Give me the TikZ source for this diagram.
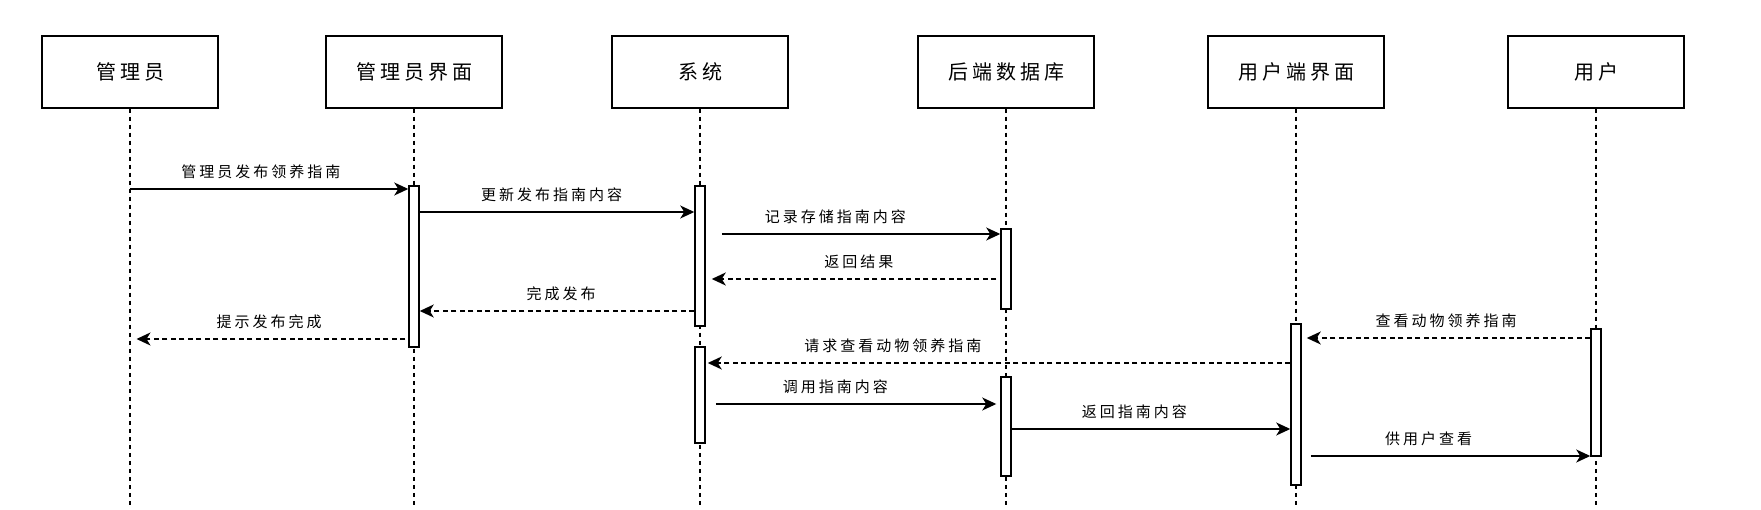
\documentclass[tikz,border=0pt]{standalone}
\usepackage{fontspec}
\setmainfont{Noto Sans CJK SC}[LetterSpace=20]
\usetikzlibrary{arrows.meta}

\begin{document}
\begin{tikzpicture}[x=1pt, y=-1pt,
    head/.style={draw, line width=1.5pt, minimum width=176pt, minimum height=72pt,
      inner sep=0pt, font=\fontsize{20pt}{24pt}\selectfont},
    life/.style={line width=1.2pt, dash pattern=on 4.5pt off 3.5pt},
    act/.style={draw, fill=white, line width=1.5pt, minimum width=10pt, inner sep=0pt},
    call/.style={line width=1.5pt, -{Stealth[length=14pt, width=13pt, inset=4pt]}},
    back/.style={call, dash pattern=on 5pt off 3.5pt},
    lbl/.style={yshift=17pt, inner sep=0pt, font=\fontsize{15pt}{18pt}\selectfont}]

  \useasboundingbox (0,0) rectangle (1761,510);

  % Heads and lifelines
  \foreach \n/\x/\t in {adm/130/管理员, admui/414/管理员界面, sys/700/系统,
      db/1006/后端数据库, userui/1296/用户端界面, user/1596/用户} {
    \node[head] (\n) at (\x,72) {\t};
    \coordinate (\n-end) at (\x,508);
    \draw[life] (\n) -- (\n-end);
  }

  % Activation bars
  \node[act, minimum height=161pt] (a2) at (admui |- 0,266.5) {};
  \node[act, minimum height=140pt] (a3a) at (sys |- 0,256) {};
  \node[act, minimum height=80pt] (a4a) at (db |- 0,269) {};
  \node[act, minimum height=96pt] (a3b) at (sys |- 0,395) {};
  \node[act, minimum height=99pt] (a4b) at (db |- 0,426.5) {};
  \node[act, minimum height=161pt] (a5) at (userui |- 0,404.5) {};
  \node[act, minimum height=127pt] (a6) at (user |- 0,392.5) {};

  % Publishing the guide
  \draw[call] (adm |- 0,189) -- node[lbl, pos=0.47] {管理员发布领养指南} (a2.west |- 0,189);
  \draw[call] (a2.east |- 0,212) -- node[lbl, pos=0.48] {更新发布指南内容} (a3a.west |- 0,212);
  \draw[call, shorten <=16pt] (a3a.east |- 0,234) -- node[lbl, pos=0.44] {记录存储指南内容} (a4a.west |- 0,234);
  \draw[back, shorten <=4pt, shorten >=6pt] (a4a.west |- 0,279) -- node[lbl, pos=0.48] {返回结果} (a3a.east |- 0,279);
  \draw[back] (a3a.west |- 0,311) -- node[lbl, pos=0.485] {完成发布} (a2.east |- 0,311);
  \draw[back, shorten <=3pt, shorten >=6.5pt] (a2.west |- 0,339) -- node[lbl, pos=0.5] {提示发布完成} (adm |- 0,339);

  % Viewing the guide
  \draw[back, shorten >=5pt] (a6.west |- 0,338) -- node[lbl, pos=0.5] {查看动物领养指南} (a5.east |- 0,338);
  \draw[back, shorten >=2pt] (a5.west |- 0,363) -- node[lbl, pos=0.68] {请求查看动物领养指南} (a3b.east |- 0,363);
  \draw[call, shorten <=10pt, shorten >=4pt] (a3b.east |- 0,404) -- node[lbl, pos=0.44] {调用指南内容} (a4b.west |- 0,404);
  \draw[call] (a4b.east |- 0,429) -- node[lbl, pos=0.44] {返回指南内容} (a5.west |- 0,429);
  \draw[call, shorten <=9pt] (a5.east |- 0,456) -- node[lbl, pos=0.44] {供用户查看} (a6.west |- 0,456);
\end{tikzpicture}
\end{document}
